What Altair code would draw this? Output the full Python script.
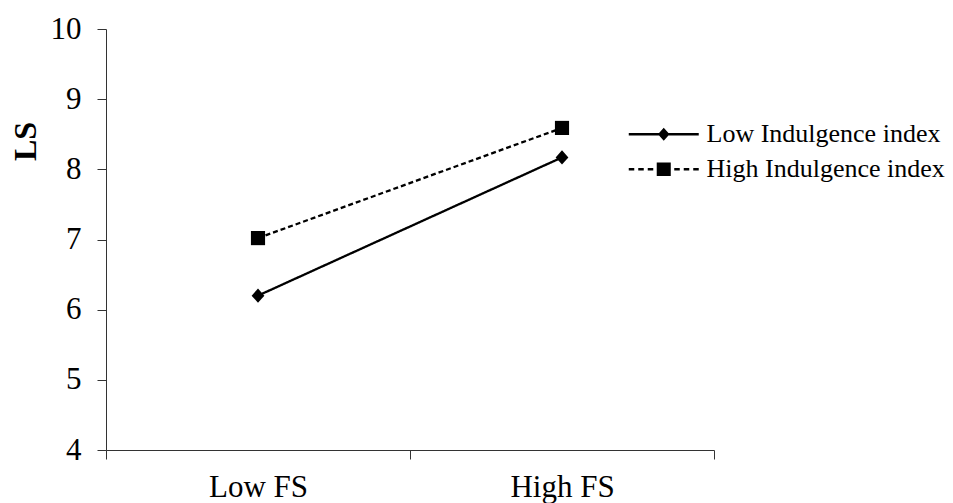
import altair as alt
import pandas as pd

fs_levels = ["Low FS", "High FS"]
series_names = ["Low Indulgence index", "High Indulgence index"]
low_indulgence = [6.2, 8.17]
high_indulgence = [7.02, 8.59]
y_ticks = [4, 5, 6, 7, 8, 9, 10]

rows = []
for name, vals in zip(series_names, [low_indulgence, high_indulgence]):
    for fs, v in zip(fs_levels, vals):
        rows.append({"FS": fs, "Series": name, "LS": v})
df = pd.DataFrame(rows)

FONT = "Liberation Serif"

x_enc = alt.X(
    "FS:N",
    sort=fs_levels,
    bandPosition=0.5,
    scale=alt.Scale(type="band", paddingInner=0, paddingOuter=0),
    axis=alt.Axis(
        title=None, labelAngle=0, tickBand="extent", tickSize=9,
        labelPadding=13, labelFontSize=31, labelFont=FONT, labelColor="black",
        domainColor="#333333", tickColor="#333333", grid=False,
    ),
)
y_enc = alt.Y(
    "LS:Q",
    scale=alt.Scale(domain=[4, 10], nice=False, zero=False),
    axis=alt.Axis(
        values=y_ticks, title="LS", titleAngle=-90, titleX=-81, titleY=112,
        titleAlign="center", titleBaseline="middle",
        titleFont=FONT, titleFontSize=32, titleFontWeight="bold", titleColor="black",
        tickSize=9, labelPadding=16, labelFontSize=31, labelFont=FONT,
        labelColor="black", domainColor="#333333", tickColor="#333333", grid=False,
    ),
)

# legend glyphs (line + marker) drawn as filled shapes in symbol units
bar = "M-1.647,-0.055H1.647V0.055H-1.647Z"
low_path = bar + "M0,-0.306L0.273,0L0,0.306L-0.273,0Z"
dashes = "".join(
    f"M{a},-0.055H{b}V0.055H{a}Z"
    for a, b in [(-1.647, -1.388), (-1.2, -0.941), (-0.753, -0.494),
                 (0.494, 0.753), (0.941, 1.2), (1.388, 1.647)]
)
high_path = dashes + "M-0.33,-0.315H0.33V0.315H-0.33Z"

plot_diamond = "M0,-1L0.9,0L0,1L-0.9,0Z"

dash_scale = alt.Scale(domain=series_names, range=[[1, 0], [5, 3]])

lines = alt.Chart(df).mark_line(color="black", strokeWidth=2.3).encode(
    x=x_enc,
    y=y_enc,
    strokeDash=alt.StrokeDash("Series:N", scale=dash_scale, legend=None),
)

points = alt.Chart(df).mark_point(filled=True, color="black", opacity=1, size=200).encode(
    x=x_enc,
    y=y_enc,
    shape=alt.Shape("Series:N", scale=alt.Scale(domain=series_names, range=[plot_diamond, "square"]), legend=None),
)

leg = alt.Legend(
    title=None, orient="none", legendX=536.25, legendY=83.75, padding=0,
    symbolSize=1806, symbolFillColor="black", symbolStrokeWidth=0,
    symbolOpacity=1, labelOffset=21.25, labelFont=FONT,
    labelFontSize=26, labelColor="black", rowPadding=0, labelLimit=400,
)

legend_layer = alt.Chart(df).mark_point(filled=True, color="black").encode(
    x=x_enc,
    y=y_enc,
    shape=alt.Shape("Series:N", sort=series_names,
                    scale=alt.Scale(domain=series_names, range=[low_path, high_path]), legend=leg),
).transform_filter("false")

chart = alt.layer(lines, points, legend_layer).resolve_scale(
    shape="independent"
).properties(
    width=608, height=421,
    autosize=alt.AutoSizeParams(type="none"),
    padding={"left": 106, "top": 29, "right": 239, "bottom": 53},
    background="white",
).configure_view(stroke=None)

chart.save("out.html", embed_options={"renderer": "svg", "actions": False})
